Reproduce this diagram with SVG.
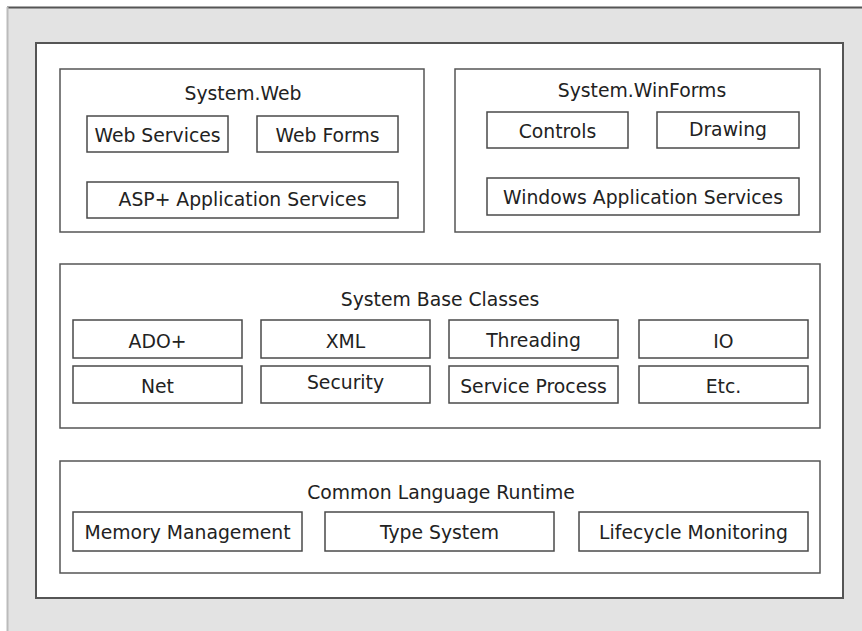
<svg xmlns="http://www.w3.org/2000/svg" width="862" height="631" viewBox="0 0 862 631">
<style>
.box{fill:#fff;stroke:#4a4a4a;stroke-width:1.5}
.grp{fill:#fff;stroke:#555;stroke-width:1.5}
text{font-family:"DejaVu Sans","Liberation Sans",sans-serif;font-size:18.8px;fill:#222;text-anchor:middle}
</style>
<rect x="0" y="0" width="862" height="631" fill="#fff"/>
<rect x="7" y="7" width="860" height="630" fill="#e3e3e3"/>
<line x1="7" y1="7.5" x2="862" y2="7.5" stroke="#555" stroke-width="2"/>
<line x1="7.5" y1="7" x2="7.5" y2="631" stroke="#bbb" stroke-width="2"/>
<rect x="36" y="43" width="807" height="555" fill="#fff" stroke="#555" stroke-width="2"/>

<g id="system-web">
<rect class="grp" x="60" y="69" width="364" height="163"/>
<text x="243" y="100">System.Web</text>
</g>
<g id="web-services"><rect class="box" x="87" y="116" width="141" height="36"/><text x="157.5" y="142">Web Services</text></g>
<g id="web-forms"><rect class="box" x="257" y="116" width="141" height="36"/><text x="327.5" y="142">Web Forms</text></g>
<g id="asp-app-services"><rect class="box" x="87" y="182" width="311" height="36"/><text x="242.5" y="206">ASP+ Application Services</text></g>

<g id="system-winforms">
<rect class="grp" x="455" y="69" width="365" height="163"/>
<text x="642" y="97">System.WinForms</text>
</g>
<g id="controls"><rect class="box" x="487" y="112" width="141" height="36"/><text x="557.5" y="138">Controls</text></g>
<g id="drawing"><rect class="box" x="657" y="112" width="142" height="36"/><text x="728" y="136">Drawing</text></g>
<g id="windows-app-services"><rect class="box" x="487" y="178" width="312" height="37"/><text x="643" y="204">Windows Application Services</text></g>

<g id="system-base-classes">
<rect class="grp" x="60" y="264" width="760" height="164"/>
<text x="440" y="306">System Base Classes</text>
</g>
<g id="ado"><rect class="box" x="73" y="320" width="169" height="38"/><text x="157.5" y="348">ADO+</text></g>
<g id="xml"><rect class="box" x="261" y="320" width="169" height="38"/><text x="345.5" y="348">XML</text></g>
<g id="threading"><rect class="box" x="449" y="320" width="169" height="38"/><text x="533.5" y="347">Threading</text></g>
<g id="io"><rect class="box" x="639" y="320" width="169" height="38"/><text x="723.5" y="348">IO</text></g>
<g id="net"><rect class="box" x="73" y="366" width="169" height="37"/><text x="157.5" y="393">Net</text></g>
<g id="security"><rect class="box" x="261" y="366" width="169" height="37"/><text x="345.5" y="389">Security</text></g>
<g id="service-process"><rect class="box" x="449" y="366" width="169" height="37"/><text x="533.5" y="393">Service Process</text></g>
<g id="etc"><rect class="box" x="639" y="366" width="169" height="37"/><text x="723.5" y="393">Etc.</text></g>

<g id="clr">
<rect class="grp" x="60" y="461" width="760" height="112"/>
<text x="441" y="499">Common Language Runtime</text>
</g>
<g id="memory-management"><rect class="box" x="73" y="512" width="229" height="39"/><text x="187.5" y="539">Memory Management</text></g>
<g id="type-system"><rect class="box" x="325" y="512" width="229" height="39"/><text x="439.5" y="539">Type System</text></g>
<g id="lifecycle-monitoring"><rect class="box" x="579" y="512" width="229" height="39"/><text x="693.5" y="539">Lifecycle Monitoring</text></g>

<g id="connectors"></g>
</svg>
